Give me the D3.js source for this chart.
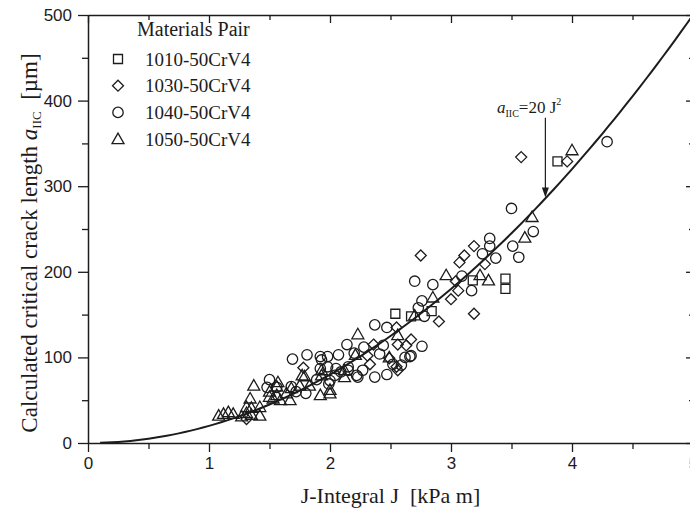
<!DOCTYPE html>
<html>
<head>
<meta charset="utf-8">
<script src="https://cdn.jsdelivr.net/npm/d3@7"></script>
<style>
  body { margin: 0; background: #fff; }
  svg { display: block; }
</style>
</head>
<body>
<svg id="chart" width="690" height="514"></svg>
<script>
///// *** DATA *** /////
// [J (kPa m), a_IIC (um)]
var pair1010 = [[3.88,329],[3.45,192],[3.45,180],[2.54,151],[2.67,148],[2.84,154],[3.18,190]];

var pair1030 = [[3.58,334],[3.96,329],[3.19,230],[2.75,219],[3.07,211],[3.28,209],[3.11,219],
  [3.06,178],[3.00,168],[2.90,142],[3.19,151],[2.55,135],[2.56,115],[2.67,121],[2.63,114],
  [2.55,89],[2.36,115],[2.31,102],[2.33,92],[1.78,88],[3.04,189],[2.49,99],[2.56,85],[1.31,28]];

var pair1040 = [[4.29,352],[3.50,274],[3.68,247],[3.32,239],[3.32,230],[3.51,230],[3.56,217],
  [3.26,221],[3.37,216],[2.70,189],[2.85,185],[3.09,195],[3.17,178],[2.76,166],[2.78,148],
  [2.73,158],[2.37,138],[2.47,135],[2.76,113],[2.67,102],[2.62,100],[2.52,92],[2.47,80],
  [2.37,77],[2.23,77],[2.27,85],[2.41,104],[2.44,114],[2.28,112],[2.15,85],[2.14,115],
  [1.50,74],[1.48,65],[1.68,66],[1.69,98],[1.81,103],[1.80,58],[1.72,60],[1.92,101],
  [1.93,97],[1.89,74],[2.00,73],[1.98,89],[1.98,101],[2.07,103],[2.05,87],[2.15,89],
  [2.22,79],[1.99,69],[2.09,83],[2.04,79],[2.20,105],[2.66,101],[2.59,91],[1.56,65],[1.92,87]];

var pair1050 = [[4.00,342],[3.67,264],[3.61,240],[3.31,190],[3.24,196],[2.96,196],[2.85,170],
  [2.70,149],[2.23,127],[2.56,126],[2.21,103],[2.49,100],[2.12,77],[1.08,32],[1.12,34],
  [1.16,36],[1.20,34],[1.27,31],[1.31,35],[1.37,67],[1.34,52],[1.31,42],[1.35,41],[1.42,42],
  [1.42,32],[1.35,33],[1.50,60],[1.56,66],[1.50,54],[1.56,56],[1.59,50],[1.67,50],[1.64,58],
  [1.79,78],[1.75,67],[1.92,56],[2.00,58],[1.93,79],[2.00,62],[1.93,85],[2.12,85],[1.83,67],
  [1.53,52],[1.57,71],[1.68,64],[1.77,79]];

var legendNames = ['1010-50CrV4', '1030-50CrV4', '1040-50CrV4', '1050-50CrV4'];
var xTicks = [0, 1, 2, 3, 4, 5],
    xMinor = [0.5, 1.5, 2.5, 3.5, 4.5],
    yTicks = [0, 100, 200, 300, 400, 500],
    yMinor = [50, 150, 250, 350, 450];
var fitCoef = 20;   // a_IIC = 20 J^2
var arrowJ = 3.78, arrowTop = 380;

///// *** SETUP *** /////
var ink = '#1c1c1c',
    serif = '"Liberation Serif", "DejaVu Serif", serif',
    sans = '"Liberation Sans", Arial, sans-serif';

var svg = d3.select('#chart');
var x = d3.scaleLinear().domain([0, 5]).range([88, 693]),
    y = d3.scaleLinear().domain([0, 500]).range([443, 15]);

///// *** AXES *** /////
function styleAxis(g){
  g.selectAll('path.domain').attr('stroke', ink).attr('stroke-width', 1.5);
  g.selectAll('.tick line').attr('stroke', ink).attr('stroke-width', 1.3);
  g.selectAll('.tick text').attr('fill', ink).style('font-family', sans).style('font-size', '17px');
}

svg.append('g').attr('transform', 'translate(0,443)')
  .call(d3.axisBottom(x).tickValues(xTicks).tickSize(9).tickSizeOuter(0).tickPadding(5).tickFormat(d3.format('d')))
  .call(styleAxis);
svg.append('g').attr('transform', 'translate(0,443)')
  .call(d3.axisBottom(x).tickValues(xMinor).tickSize(6).tickFormat(''))
  .call(styleAxis).select('.domain').remove();

svg.append('g').attr('transform', 'translate(0,15)')
  .call(d3.axisTop(x).tickValues(xTicks).tickSize(-8).tickSizeOuter(0).tickFormat(''))
  .call(styleAxis);
svg.append('g').attr('transform', 'translate(0,15)')
  .call(d3.axisTop(x).tickValues(xMinor).tickSize(-5).tickFormat(''))
  .call(styleAxis).select('.domain').remove();

svg.append('g').attr('transform', 'translate(88,0)')
  .call(d3.axisLeft(y).tickValues(yTicks).tickSize(10).tickSizeOuter(0).tickPadding(6))
  .call(styleAxis);
svg.append('g').attr('transform', 'translate(88,0)')
  .call(d3.axisLeft(y).tickValues(yMinor).tickSize(6).tickFormat(''))
  .call(styleAxis).select('.domain').remove();

svg.append('g').attr('transform', 'translate(693,0)')
  .call(d3.axisRight(y).tickValues(yTicks).tickSize(-7).tickSizeOuter(0).tickFormat(''))
  .call(styleAxis);
svg.append('g').attr('transform', 'translate(693,0)')
  .call(d3.axisRight(y).tickValues(yMinor).tickSize(-4).tickFormat(''))
  .call(styleAxis).select('.domain').remove();

///// *** FIT CURVE *** /////
var curveJ = d3.range(0.1, 5.001, 0.05);
svg.append('path')
  .datum(curveJ)
  .attr('fill', 'none')
  .attr('stroke', ink)
  .attr('stroke-width', 2)
  .attr('d', d3.line().x(function(d){ return x(d); }).y(function(d){ return y(fitCoef * d * d); }));

///// *** MARKERS *** /////
function markerPath(type){
  if (type === 'square') return 'M-4.5,-4.5H4.5V4.5H-4.5Z';
  if (type === 'diamond') return 'M0,-5.5L5.5,0L0,5.5L-5.5,0Z';
  if (type === 'triangle') return 'M0,-6L6,4.5H-6Z';
  return null;
}
function drawSeries(data, type){
  var g = svg.append('g');
  if (type === 'circle') {
    g.selectAll('circle').data(data).enter().append('circle')
      .attr('cx', function(d){ return x(d[0]); })
      .attr('cy', function(d){ return y(d[1]); })
      .attr('r', 5.2)
      .attr('fill', 'none').attr('stroke', ink).attr('stroke-width', 1.3);
  } else {
    g.selectAll('path').data(data).enter().append('path')
      .attr('transform', function(d){ return 'translate(' + x(d[0]) + ',' + y(d[1]) + ')'; })
      .attr('d', markerPath(type))
      .attr('fill', 'none').attr('stroke', ink).attr('stroke-width', 1.3);
  }
}
drawSeries(pair1040, 'circle');
drawSeries(pair1050, 'triangle');
drawSeries(pair1030, 'diamond');
drawSeries(pair1010, 'square');

///// *** LEGEND *** /////
var types = ['square', 'diamond', 'circle', 'triangle'];
svg.append('text').attr('x', 137).attr('y', 36)
  .style('font-family', serif).style('font-size', '20px').attr('fill', ink)
  .text('Materials Pair');
legendNames.forEach(function(name, i){
  var cy = 59 + i * 26.7;
  if (types[i] === 'circle') {
    svg.append('circle').attr('cx', 118).attr('cy', cy).attr('r', 5.2)
      .attr('fill', 'none').attr('stroke', ink).attr('stroke-width', 1.3);
  } else {
    svg.append('path').attr('transform', 'translate(118,' + cy + ')')
      .attr('d', markerPath(types[i]))
      .attr('fill', 'none').attr('stroke', ink).attr('stroke-width', 1.3);
  }
  svg.append('text').attr('x', 145).attr('y', cy + 6.5)
    .style('font-family', serif).style('font-size', '19px').attr('fill', ink)
    .text(name);
});

///// *** AXIS TITLES *** /////
svg.append('text')
  .attr('x', x(2.5)).attr('y', 503)
  .attr('text-anchor', 'middle')
  .style('font-family', serif).style('font-size', '22px').attr('fill', ink)
  .text('J-Integral J\u00a0\u00a0[kPa m]');

var yt = svg.append('text')
  .attr('transform', 'translate(37,243) rotate(-90)')
  .attr('text-anchor', 'middle')
  .style('font-family', serif).style('font-size', '23px').attr('fill', ink);
yt.append('tspan').text('Calculated critical crack length ');
yt.append('tspan').style('font-style', 'italic').text('a');
yt.append('tspan').attr('dy', 4).style('font-size', '13px').text('IIC');
yt.append('tspan').attr('dy', -4).text('\u00a0\u00a0[\u00b5m]');

///// *** ANNOTATION *** /////
var ann = svg.append('text').attr('x', 497).attr('y', 113)
  .style('font-family', serif).style('font-size', '17px').attr('fill', ink);
ann.append('tspan').style('font-style', 'italic').text('a');
ann.append('tspan').attr('dy', 4).style('font-size', '10px').text('IIC');
ann.append('tspan').attr('dy', -4).text('=20 J');
ann.append('tspan').attr('dy', -8).style('font-size', '10px').text('2');

var ax = x(arrowJ), tipY = y(fitCoef * arrowJ * arrowJ);
svg.append('line').attr('x1', ax).attr('x2', ax).attr('y1', y(arrowTop)).attr('y2', tipY - 8)
  .attr('stroke', ink).attr('stroke-width', 1.2);
svg.append('path')
  .attr('d', 'M' + (ax - 3.5) + ',' + (tipY - 11) + 'L' + (ax + 3.5) + ',' + (tipY - 11) + 'L' + ax + ',' + (tipY - 1) + 'Z')
  .attr('fill', ink);
</script>
</body>
</html>
